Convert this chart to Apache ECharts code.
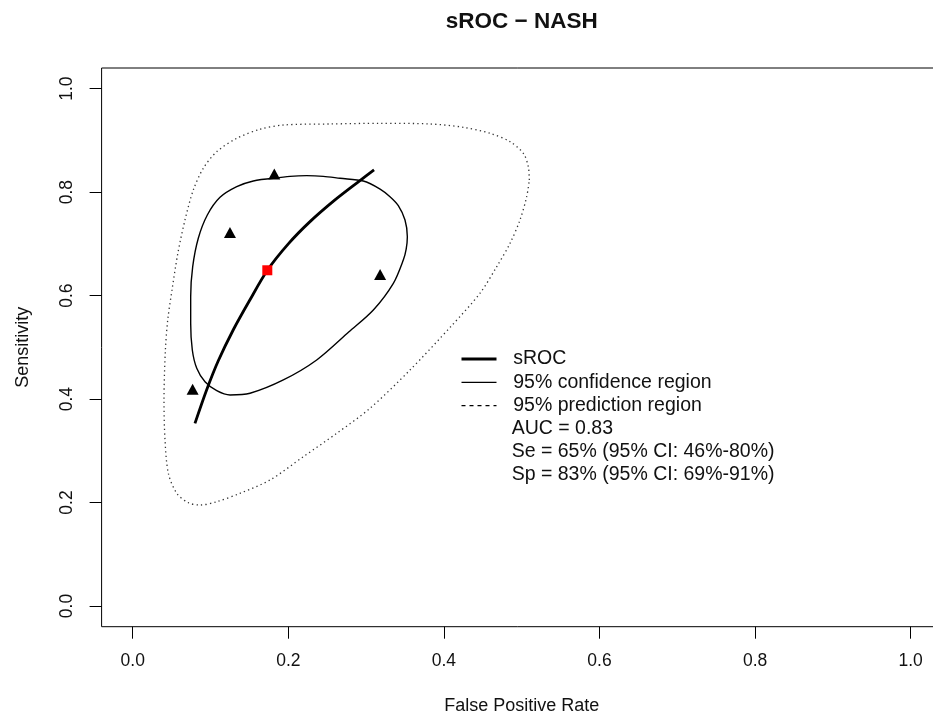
<!DOCTYPE html>
<html><head><meta charset="utf-8">
<script src="https://cdn.jsdelivr.net/npm/echarts@6/dist/echarts.min.js"></script>
<style>html,body{margin:0;padding:0;background:#fff}#c{width:933px;height:722px}</style>
</head><body><div id="c"></div>
<script>
// ---------- data ----------
const chartTitle = 'sROC \u2212 NASH';
const xAxisTitle = 'False Positive Rate';
const yAxisTitle = 'Sensitivity';
const tickValues = [0, 0.2, 0.4, 0.6, 0.8, 1.0];
const tickLabels = ['0.0', '0.2', '0.4', '0.6', '0.8', '1.0'];

// individual studies (FPR, Sensitivity)
const studyFPR = [0.182, 0.125, 0.318, 0.077];
const studySe  = [0.835, 0.722, 0.641, 0.419];

// summary point
const summaryFPR = [0.173];
const summarySe  = [0.649];

// sROC curve
const srocFPR = [0.080, 0.0951, 0.110, 0.1293, 0.150, 0.1731, 0.200, 0.2279, 0.260, 0.2900, 0.3102];
const srocSe  = [0.353, 0.418, 0.474, 0.534, 0.590, 0.649, 0.700, 0.743, 0.785, 0.820, 0.843];

// 95% confidence region (closed)
const confFPR = [0.1807, 0.2022, 0.2236, 0.2450, 0.2665, 0.2964, 0.3180, 0.3307, 0.3414, 0.3500, 0.3530, 0.3515, 0.3478, 0.3350, 0.3093, 0.2780, 0.2365, 0.1936, 0.1508, 0.1251, 0.1080, 0.0929, 0.0823, 0.0766, 0.0745, 0.0745, 0.0771, 0.0843, 0.0959, 0.1122, 0.1337, 0.1550, 0.1807];
const confSe  = [0.8268, 0.8306, 0.8319, 0.8306, 0.8268, 0.8215, 0.8060, 0.7912, 0.7740, 0.7462, 0.7139, 0.6900, 0.6689, 0.6238, 0.5722, 0.5300, 0.4755, 0.4369, 0.4112, 0.4079, 0.4162, 0.4336, 0.4595, 0.4949, 0.5465, 0.5979, 0.6559, 0.7108, 0.7558, 0.7900, 0.8106, 0.8216, 0.8268];

// 95% prediction region (closed)
const predFPR = [0.5098, 0.5085, 0.5021, 0.4850, 0.4592, 0.4249, 0.3821, 0.3179, 0.2536, 0.1936, 0.1636, 0.1337, 0.1080, 0.0907, 0.0779, 0.0672, 0.0580, 0.0505, 0.0450, 0.0420, 0.0402, 0.0415, 0.0458, 0.0566, 0.0715, 0.0865, 0.1080, 0.1379, 0.1765, 0.2193, 0.2622, 0.3050, 0.3564, 0.4100, 0.4463, 0.4679, 0.4850, 0.4978, 0.5064, 0.5098];
const predSe  = [0.8235, 0.8492, 0.8751, 0.8976, 0.9138, 0.9254, 0.9318, 0.9331, 0.9318, 0.9298, 0.9215, 0.9041, 0.8782, 0.8461, 0.8042, 0.7462, 0.6818, 0.6109, 0.5529, 0.4949, 0.3982, 0.3209, 0.2565, 0.2179, 0.1997, 0.1952, 0.2016, 0.2179, 0.2436, 0.2886, 0.3338, 0.3822, 0.4562, 0.5420, 0.6045, 0.6559, 0.7011, 0.7462, 0.7912, 0.8235];

const legendNames = ['sROC', '95% confidence region', '95% prediction region'];
const legendNotes = ['AUC = 0.83', 'Se = 65% (95% CI: 46%-80%)', 'Sp = 83% (95% CI: 69%-91%)'];

// ---------- chart ----------
const FONT = '"Liberation Sans", Arial, Helvetica, sans-serif';
const TXT = '#111';
const pairs = (xs, ys) => xs.map((x, i) => [x, ys[i]]);

const chart = echarts.init(document.getElementById('c'), null, {renderer: 'canvas'});

const axisCommon = {
  type: 'value', min: -0.04, max: 1.04,
  axisLine: {show: false, onZero: false},
  splitLine: {show: false},
  axisTick: {show: true, inside: false, length: 12, customValues: tickValues, lineStyle: {color: '#000', width: 1}},
  axisLabel: {show: true, customValues: tickValues, margin: 25, fontFamily: FONT, fontSize: 17.5, color: TXT,
    formatter: v => tickLabels[tickValues.findIndex(t => Math.abs(t - v) < 1e-9)] || ''},
  nameLocation: 'middle',
  nameTextStyle: {fontFamily: FONT, fontSize: 18, color: TXT}
};

const noteGraphics = legendNotes.map((t, i) => ({
  type: 'text', left: 511.7, top: 428.3 + i * 23.33 - 10,
  style: {text: t, font: '19.5px ' + FONT, fill: TXT}
}));

chart.setOption({
  animation: false,
  backgroundColor: '#fff',
  grid: {left: 101.6, top: 68, width: 840.2, height: 558.7, containLabel: false, outerBoundsMode: 'none',
    show: true, borderColor: '#000', borderWidth: 1, backgroundColor: 'transparent'},
  xAxis: Object.assign({}, axisCommon, {name: xAxisTitle, nameGap: 70}),
  yAxis: Object.assign({}, axisCommon, {name: yAxisTitle, nameGap: 70,
    axisLabel: Object.assign({}, axisCommon.axisLabel, {rotate: 90})}),
  legend: {
    show: true, orient: 'vertical', left: 460, top: 349, padding: 0,
    itemWidth: 35, itemHeight: 14, itemGap: 3.33,
    itemStyle: {opacity: 0},
    textStyle: {fontFamily: FONT, fontSize: 19.5, color: TXT, lineHeight: 20, padding: [0, 0, 0, 11.7]},
    selectedMode: false,
    data: [
      {name: legendNames[0], lineStyle: {type: 'solid', width: 3, color: '#000'}},
      {name: legendNames[1], lineStyle: {type: 'solid', width: 1.4, color: '#000'}},
      {name: legendNames[2], lineStyle: {type: [4, 4], width: 1.2, color: '#000'}}
    ]
  },
  graphic: [
    {type: 'text', x: 521.7, y: 22, style: {text: chartTitle, font: 'bold 22.5px ' + FONT, fill: TXT, align: 'center', verticalAlign: 'middle'}}
  ].concat(noteGraphics),
  series: [
    {name: legendNames[2], type: 'line', data: pairs(predFPR, predSe), symbol: 'none', smooth: 0.3, z: 2,
      lineStyle: {color: '#333', width: 1.3, type: [1.3, 3.2]}, itemStyle: {color: '#333'}},
    {name: legendNames[1], type: 'line', data: pairs(confFPR, confSe), symbol: 'none', smooth: 0.3, z: 3,
      lineStyle: {color: '#000', width: 1.4, type: 'solid'}, itemStyle: {color: '#000'}},
    {name: legendNames[0], type: 'line', data: pairs(srocFPR, srocSe), symbol: 'none', smooth: 0.3, z: 4,
      lineStyle: {color: '#000', width: 2.8, type: 'solid'}, itemStyle: {color: '#000'}},
    {name: 'studies', type: 'scatter', data: pairs(studyFPR, studySe), symbol: 'triangle', symbolSize: [12, 11], z: 5,
      itemStyle: {color: '#000', opacity: 1}},
    {name: 'summary', type: 'scatter', data: pairs(summaryFPR, summarySe), symbol: 'rect', symbolSize: 10, z: 6,
      itemStyle: {color: '#ff0000', opacity: 1}}
  ]
});
</script></body></html>
